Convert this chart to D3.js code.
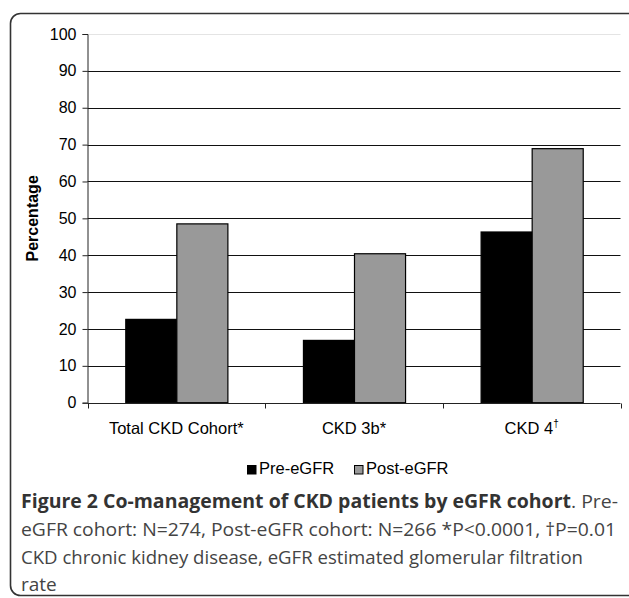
<!DOCTYPE html>
<html>
<head>
<meta charset="utf-8">
<script src="https://cdn.jsdelivr.net/npm/d3@7"></script>
<style>
  html, body { margin: 0; padding: 0; background: #fff; }
  svg { display: block; }
</style>
</head>
<body>
<svg id="chart" width="629" height="598"></svg>
<script>
const categories = ["Total CKD Cohort*", "CKD 3b*", "CKD 4"];
const categorySup = ["", "", "†"];
const seriesNames = ["Pre-eGFR", "Post-eGFR"];
const preValues = [22.6, 16.9, 46.3];
const postValues = [48.5, 40.4, 68.9];
const yTicks = [0, 10, 20, 30, 40, 50, 60, 70, 80, 90, 100];
const seriesColors = ["#000000", "#999999"];
const yTitle = "Percentage";
const captionBold = "Figure 2 Co-management of CKD patients by eGFR cohort";
const captionLines = [
  ". Pre-",
  "eGFR cohort: N=274, Post-eGFR cohort: N=266 *P<0.0001, †P=0.01",
  "CKD chronic kidney disease, eGFR estimated glomerular filtration",
  "rate"
];

const svg = d3.select("#chart");
const chartFont = "Liberation Sans, Arial, sans-serif";

// outer frame
svg.append("rect")
  .attr("x", 10.5).attr("y", 13.5)
  .attr("width", 660).attr("height", 582)
  .attr("rx", 10).attr("ry", 10)
  .attr("fill", "none").attr("stroke", "#333").attr("stroke-width", 1.6);

const plot = { left: 87.5, right: 620.5, top: 34, bottom: 402.7 };

const x0 = d3.scaleBand().domain(categories).range([plot.left, plot.right]).paddingInner(0).paddingOuter(0);
const x1 = d3.scaleBand().domain(seriesNames).range([0, x0.bandwidth()]).paddingInner(0).paddingOuter(0.74);
const y = d3.scaleLinear().domain([0, 100]).range([plot.bottom, plot.top]);

// gridlines
svg.append("g").selectAll("line").data(yTicks.filter(d => d > 0)).join("line")
  .attr("x1", plot.left).attr("x2", plot.right)
  .attr("y1", d => Math.round(y(d)) + 0.5).attr("y2", d => Math.round(y(d)) + 0.5)
  .attr("stroke", d => d === 100 ? "#e4e4e4" : "#111")
  .attr("stroke-width", 1);

// y axis
const yAxis = d3.axisLeft(y).tickValues(yTicks).tickSize(5).tickPadding(6);
const gy = svg.append("g").attr("transform", `translate(${plot.left},0)`).call(yAxis);
gy.select(".domain").attr("stroke", "#222");
gy.selectAll(".tick line").attr("stroke", "#222");
gy.selectAll(".tick text").attr("font-family", chartFont).attr("font-size", 16).attr("fill", "#000");

// bars
const pairs = categories.map((c, i) => ({ cat: c, vals: [preValues[i], postValues[i]] }));
const groups = svg.append("g").selectAll("g").data(pairs).join("g")
  .attr("transform", d => `translate(${x0(d.cat)},0)`);
groups.selectAll("rect").data(d => d.vals.map((v, j) => ({ name: seriesNames[j], v, j }))).join("rect")
  .attr("x", d => x1(d.name) + 0.5)
  .attr("y", d => y(d.v))
  .attr("width", x1.bandwidth())
  .attr("height", d => plot.bottom - y(d.v))
  .attr("fill", d => seriesColors[d.j])
  .attr("stroke", "#000").attr("stroke-width", 1.2);

// x axis
const xAxisG = svg.append("g").attr("transform", `translate(0,${Math.round(plot.bottom) + 0.5})`);
xAxisG.append("line").attr("x1", plot.left).attr("x2", plot.right).attr("stroke", "#222");
const boundaries = categories.map(c => x0(c)).concat([plot.right]);
xAxisG.selectAll("line.tk").data(boundaries).join("line").attr("class", "tk")
  .attr("x1", d => Math.round(d) + 0.5).attr("x2", d => Math.round(d) + 0.5)
  .attr("y1", 0).attr("y2", 5).attr("stroke", "#222");
const catText = xAxisG.selectAll("text").data(categories).join("text")
  .attr("x", d => x0(d) + x0.bandwidth() / 2)
  .attr("y", 30)
  .attr("text-anchor", "middle")
  .attr("font-family", chartFont)
  .attr("font-size", 16.5).attr("fill", "#000");
catText.append("tspan").text(d => d);
catText.append("tspan").attr("dy", -7).attr("font-size", 10).text((d, i) => categorySup[i]);

// y title
svg.append("text")
  .attr("transform", `translate(38,${(plot.top + plot.bottom) / 2}) rotate(-90)`)
  .attr("text-anchor", "middle")
  .attr("font-family", chartFont)
  .attr("font-weight", "bold").attr("font-size", 16).attr("fill", "#000")
  .text(yTitle);

// legend
const legend = svg.append("g").attr("transform", "translate(247,474)");
const legendX = [0, 107];
seriesNames.forEach((n, i) => {
  const g = legend.append("g").attr("transform", `translate(${legendX[i]},0)`);
  g.append("rect").attr("x", 0.5).attr("y", -8.5).attr("width", 8.5).attr("height", 8.5)
    .attr("fill", seriesColors[i]).attr("stroke", "#000").attr("stroke-width", 1);
  g.append("text").attr("x", 12).attr("y", 0)
    .attr("font-family", chartFont).attr("font-size", 16.5).attr("fill", "#000")
    .text(n);
});

// caption
const capFont = "Open Sans, Noto Sans, sans-serif";
const capX = 21;
const capY = [508, 536, 564, 591];
const capWidths = [597, 595, 562, null];
const cap1 = svg.append("text").attr("x", capX).attr("y", capY[0])
  .attr("font-family", capFont).attr("font-size", 19).attr("fill", "#333")
  .attr("textLength", capWidths[0]).attr("lengthAdjust", "spacingAndGlyphs");
cap1.append("tspan").attr("font-weight", "bold").text(captionBold);
cap1.append("tspan").attr("fill", "#444").text(captionLines[0]);
for (let i = 1; i < captionLines.length; i++) {
  const t = svg.append("text").attr("x", capX).attr("y", capY[i])
    .attr("font-family", capFont).attr("font-size", 19).attr("fill", "#444")
    .text(captionLines[i]);
  if (capWidths[i]) t.attr("textLength", capWidths[i]).attr("lengthAdjust", "spacingAndGlyphs");
}
</script>
</body>
</html>
